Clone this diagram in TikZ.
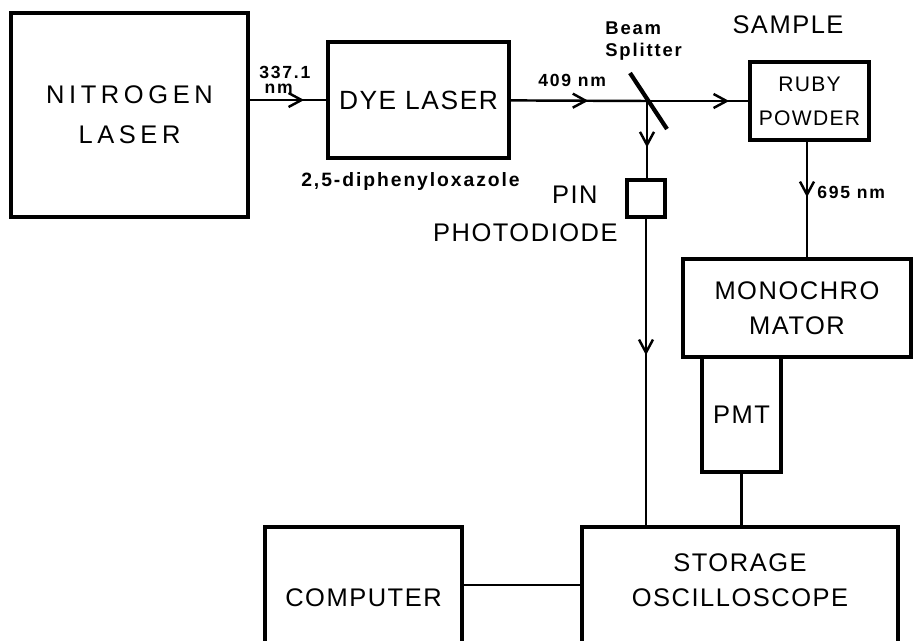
\documentclass[tikz,border=0pt]{standalone}
\usepackage{fontspec}
\setmainfont{Liberation Sans}
\newfontfamily\boxfont[LetterSpace=6]{Liberation Sans}
\newfontfamily\widefont[LetterSpace=18]{Liberation Sans}
\newfontfamily\tagfont[LetterSpace=10]{Liberation Sans}
\usepackage{tikz}
\usetikzlibrary{positioning}
\usetikzlibrary{arrows.meta}
\usetikzlibrary{decorations.markings}

\begin{document}
\begin{tikzpicture}[x=0.02cm, y=-0.02cm]
	\tikzset{
		unit/.style={rectangle, draw, line width=1.8pt, align=center, inner sep=0pt, font=\boxfont\fontsize{14.5}{20}\selectfont},
		tag/.style={inner sep=0pt, align=left, font=\tagfont\bfseries\fontsize{10}{12.5}\selectfont},
		beam/.style={line width=1.4pt},
		midarrow/.style={postaction={decorate, decoration={markings, mark=at position #1 with {\arrow{Straight Barb[length=2.6mm, width=2.8mm, line width=1.4pt]}}}}}
	}
	\useasboundingbox (0,0) rectangle (914,640);

	% sources
	\node[unit, minimum width=4.74cm, minimum height=4.08cm, font=\widefont\fontsize{14.5}{23}\selectfont] (nitro) at (129.5,115) {NITROGEN\\LASER};
	\node[unit, minimum width=3.62cm, minimum height=2.32cm, font=\boxfont\fontsize{15}{20}\selectfont] (dye) at (418.5,100) {DYE LASER};
	\node[tag, below=0.26cm of dye, xshift=-0.16cm, font=\tagfont\bfseries\fontsize{11}{13}\selectfont] (lbldye) {2,5-diphenyloxazole};

	% sample and detection
	\node[unit, minimum width=2.38cm, minimum height=1.56cm, font=\boxfont\fontsize{12}{19.5}\selectfont] (ruby) at (809.5,101) {RUBY\\POWDER};
	\node[font=\boxfont\fontsize{14.5}{20}\selectfont, inner sep=0pt] (lblsample) at (788,25) {SAMPLE};
	\node[unit, minimum width=0.76cm, minimum height=0.74cm] (pin) at (646,198.5) {};
	\node[font=\boxfont\fontsize{14.5}{20}\selectfont, inner sep=0pt, anchor=east] (lblpin) at (598,195) {PIN};
	\node[font=\boxfont\fontsize{14.5}{20}\selectfont, inner sep=0pt, anchor=east] (lblphoto) at (618,233) {PHOTODIODE};
	\node[unit, minimum width=4.56cm, minimum height=1.96cm] (mono) at (797,308) {MONOCHRO\\MATOR};
	\node[unit, minimum width=1.58cm, minimum height=2.3cm] (pmt) at (741.5,414.5) {PMT};

	% recording
	\node[unit, minimum width=6.32cm, minimum height=2.32cm, font=\boxfont\fontsize{14.5}{19.5}\selectfont, text height=1.05cm, text depth=0.21cm] (scope) at (740,585) {STORAGE\\OSCILLOSCOPE};
	\node[unit, minimum width=3.94cm, minimum height=2.32cm, text height=1cm, text depth=0.16cm] (comp) at (363.5,585) {COMPUTER};

	% beam splitter
	\coordinate (bs) at (647,101);
	\draw[line width=2.4pt] (630,73) -- (667,129);
	\node[tag, anchor=north west, font=\tagfont\bfseries\fontsize{10.5}{12.5}\selectfont] (lblsplit) at (605,21.5) {Beam\\Splitter};

	% light paths
	\draw[beam, midarrow=0.71] (nitro.east |- dye.west) -- (dye);
	\node[tag, anchor=west, font=\tagfont\bfseries\fontsize{10}{8.6}\selectfont] (lbluv) at (259,80) {337.1\\\hspace*{3pt}nm};
	\draw[beam, midarrow=0.57] (dye) -- (bs);
	\node[tag, anchor=west] (lblblue) at (538,80) {409 nm};
	\draw[beam, midarrow=0.81] (bs) -- (ruby);
	\draw[beam, midarrow=0.6] (bs) -- (bs |- pin.north);
	\draw[beam, midarrow=0.48] (ruby.south -| 807,0) -- (807,0 |- mono.north);
	\node[tag, anchor=west] (lblred) at (817,192) {695 nm};

	% signals
	\draw[beam, midarrow=0.445] (pin) -- (pin |- scope.north);
	\draw[beam] (pmt) -- (pmt |- scope.north);
	\draw[beam] (comp) -- (scope);
\end{tikzpicture}
\end{document}
